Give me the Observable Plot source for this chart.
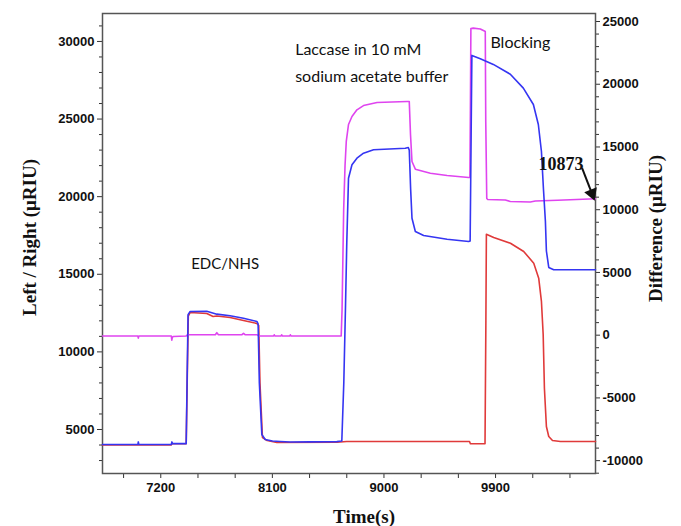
<!DOCTYPE html>
<html>
<head>
<meta charset="utf-8">
<script src="https://cdn.jsdelivr.net/npm/d3@7"></script>
<script src="https://cdn.jsdelivr.net/npm/@observablehq/plot@0.6"></script>
<style>
  html, body { margin: 0; padding: 0; background: #fff; }
  #chart svg { display: block; }
</style>
</head>
<body>
<div id="chart"></div>
<script>
// ---- Data ----
// Blue channel (left axis, µRIU)
const blueTime = [6730, 7015, 7019, 7023, 7285, 7290, 7295, 7405, 7412, 7420, 7437, 7571, 7652, 7759, 7867, 7975, 7985, 7995, 8015, 8042, 8100, 8163, 8244, 8400, 8620, 8660, 8676, 8690, 8700, 8714, 8742, 8782, 8835, 8916, 9172, 9196, 9204, 9215, 9226, 9253, 9320, 9509, 9683, 9695, 9703, 9709, 9777, 9882, 10019, 10124, 10205, 10245, 10270, 10286, 10302, 10310, 10329, 10369, 10500, 10706];
const blueValue = [4030, 4030, 4200, 4030, 4030, 4200, 4090, 4090, 8000, 12400, 12600, 12620, 12430, 12330, 12170, 11960, 11800, 8000, 4680, 4356, 4260, 4227, 4195, 4200, 4220, 4260, 8000, 13000, 17000, 21190, 22055, 22480, 22800, 23020, 23120, 23170, 23000, 20500, 18610, 17760, 17500, 17260, 17110, 17150, 24000, 29100, 28890, 28520, 27890, 26990, 25940, 24650, 22910, 20530, 18400, 16500, 15440, 15290, 15290, 15290];

// Red channel (left axis, µRIU)
const redTime = [6730, 7285, 7290, 7405, 7413, 7422, 7437, 7571, 7622, 7652, 7759, 7867, 7975, 7990, 8000, 8020, 8058, 8136, 8620, 8700, 9690, 9697, 9815, 9822, 9826, 9885, 10020, 10127, 10208, 10248, 10270, 10284, 10294, 10310, 10329, 10359, 10423, 10706];
const redValue = [4000, 4000, 4080, 4080, 8000, 12300, 12540, 12470, 12280, 12310, 12220, 12020, 11830, 11700, 8000, 4480, 4290, 4160, 4180, 4227, 4227, 4080, 4080, 12000, 17580, 17370, 17000, 16470, 15710, 14750, 13250, 11120, 7660, 5190, 4550, 4290, 4230, 4230];

// Difference (right axis, µRIU)
const diffTime = [6730, 7015, 7019, 7023, 7285, 7289, 7293, 7300, 7405, 7415, 7640, 7652, 7665, 7855, 7867, 7880, 7975, 7990, 8110, 8115, 8120, 8170, 8175, 8180, 8240, 8245, 8250, 8655, 8662, 8675, 8686, 8696, 8714, 8742, 8782, 8835, 8944, 9186, 9204, 9214, 9226, 9253, 9374, 9509, 9683, 9693, 9697, 9701, 9720, 9777, 9810, 9817, 9821, 9829, 9837, 9979, 10019, 10180, 10221, 10400, 10706];
const diffValue = [-60, -60, -230, -60, -60, -400, -180, -100, -60, 30, 30, 200, 40, 40, 150, 40, 40, -60, -60, 30, -60, -60, 30, -60, -60, 30, -60, -60, 2000, 10000, 13500, 15440, 16790, 17430, 17960, 18300, 18540, 18620, 18620, 16000, 13840, 13230, 12910, 12730, 12570, 12570, 18000, 24440, 24470, 24400, 24240, 24200, 17000, 10890, 10810, 10770, 10650, 10610, 10690, 10750, 10873];

// Axis ticks
const xMajorTicks = [7200, 8100, 9000, 9900];
const xMinorTicks = [6900, 7500, 7800, 8400, 8700, 9300, 9600, 10200, 10500];
const leftMajorTicks = [5000, 10000, 15000, 20000, 25000, 30000];
const leftMinorTicks = d3.range(3000, 31001, 1000).filter(d => d % 5000 !== 0);
const rightMajorTicks = [-10000, -5000, 0, 5000, 10000, 15000, 20000, 25000];
const rightMinorTicks = d3.range(-11000, 25001, 1000).filter(d => d % 5000 !== 0);

// Domains
const timeDomain = [6730, 10706];
const leftDomain = [2165, 31800];
const rightDomain = [-11024, 25638];

// Annotations
const stepText = ["EDC/NHS", "Blocking"];
const stepTime = [7719, 10100];
const stepLeft = [15630, 29935];
const bufferText = ["Laccase in 10 mM", "sodium acetate buffer"];
const bufferTime = [8284, 8284];
const bufferLeft = [29480, 27740];

const endLabel = "10873";
const endLabelTime = 10427;
const endLabelLeft = 22075;
const arrowTime = [10598, 10677];
const arrowRight = [13310, 11300];

// ---- Build ----
const toLeft = d3.scaleLinear().domain(rightDomain).range(leftDomain);

const blue = blueTime.map((t, i) => ({t, v: blueValue[i]}));
const red = redTime.map((t, i) => ({t, v: redValue[i]}));
const diff = diffTime.map((t, i) => ({t, v: toLeft(diffValue[i])}));
const steps = stepText.map((s, i) => ({s, t: stepTime[i], v: stepLeft[i]}));
const buffer = bufferText.map((s, i) => ({s, t: bufferTime[i], v: bufferLeft[i]}));

const tickFont = {fontFamily: "Liberation Sans, Arial, sans-serif", fontWeight: "bold", fontSize: 13, fill: "#111"};
const serifBold = {fontFamily: "Liberation Serif, Times New Roman, serif", fontWeight: "bold", textAnchor: "middle", lineAnchor: "middle", fill: "#111"};
const noteFont = {fontFamily: "Lato, Open Sans, sans-serif", fill: "#111"};

const chart = Plot.plot({
  width: 681,
  height: 526,
  marginTop: 13,
  marginRight: 86,
  marginBottom: 53,
  marginLeft: 102,
  x: {domain: timeDomain},
  y: {domain: leftDomain},
  marks: [
    // Bottom axis
    Plot.axisX(xMajorTicks, {tickSize: 5, tickPadding: 4, tickFormat: d => String(d), label: null, ...tickFont, stroke: "#333"}),
    Plot.axisX(xMinorTicks, {tickSize: 5, tickFormat: () => "", label: null, stroke: "#333"}),
    // Left axis
    Plot.axisY(leftMajorTicks, {anchor: "left", tickSize: 5, tickPadding: 3, tickFormat: d => String(d), label: null, ...tickFont, stroke: "#333"}),
    Plot.axisY(leftMinorTicks, {anchor: "left", tickSize: 3, tickFormat: () => "", label: null, stroke: "#333"}),
    // Right axis
    Plot.axisY(rightMajorTicks.map(toLeft), {anchor: "right", tickSize: 4, tickPadding: 3, tickFormat: d => String(Math.round(toLeft.invert(d))), label: null, ...tickFont, stroke: "#333"}),
    Plot.axisY(rightMinorTicks.map(toLeft), {anchor: "right", tickSize: 3, tickFormat: () => "", label: null, stroke: "#333"}),
    Plot.frame({stroke: "#555", strokeWidth: 1.5}),
    // Series
    Plot.line(red, {x: "t", y: "v", stroke: "#e03a3a", strokeWidth: 1.6}),
    Plot.line(diff, {x: "t", y: "v", stroke: "#df44ef", strokeWidth: 1.6}),
    Plot.line(blue, {x: "t", y: "v", stroke: "#3535f2", strokeWidth: 1.6}),
    // Annotations
    Plot.text(steps.slice(0, 1), {x: "t", y: "v", text: "s", textAnchor: "middle", fontSize: 15, ...noteFont}),
    Plot.text(steps.slice(1), {x: "t", y: "v", text: "s", textAnchor: "middle", fontSize: 16, ...noteFont}),
    Plot.text(buffer, {x: "t", y: "v", text: "s", textAnchor: "start", fontSize: 16, ...noteFont}),
    Plot.text([endLabel], {x: () => endLabelTime, y: () => endLabelLeft, text: d => d, ...serifBold, fontSize: 18}),
    Plot.link([0], {x1: () => arrowTime[0], y1: () => toLeft(arrowRight[0]), x2: () => arrowTime[1], y2: () => toLeft(arrowRight[1]), stroke: "#111", strokeWidth: 2}),
    Plot.dot([0], {x: () => arrowTime[1], y: () => toLeft(arrowRight[1]), symbol: "triangle", r: 5, fill: "#111", stroke: "none", rotate: 159}),
    // Axis titles
    Plot.text(["Time(s)"], {frameAnchor: "bottom", dx: 15, dy: 43, text: d => d, ...serifBold, fontSize: 19}),
    Plot.text(["Left / Right (μRIU)"], {frameAnchor: "left", rotate: -90, dx: -73, dy: -6, text: d => d, ...serifBold, fontSize: 19}),
    Plot.text(["Difference (μRIU)"], {frameAnchor: "right", rotate: -90, dx: 60, dy: -15, text: d => d, ...serifBold, fontSize: 19})
  ]
});
document.getElementById("chart").appendChild(chart);
</script>
</body>
</html>
